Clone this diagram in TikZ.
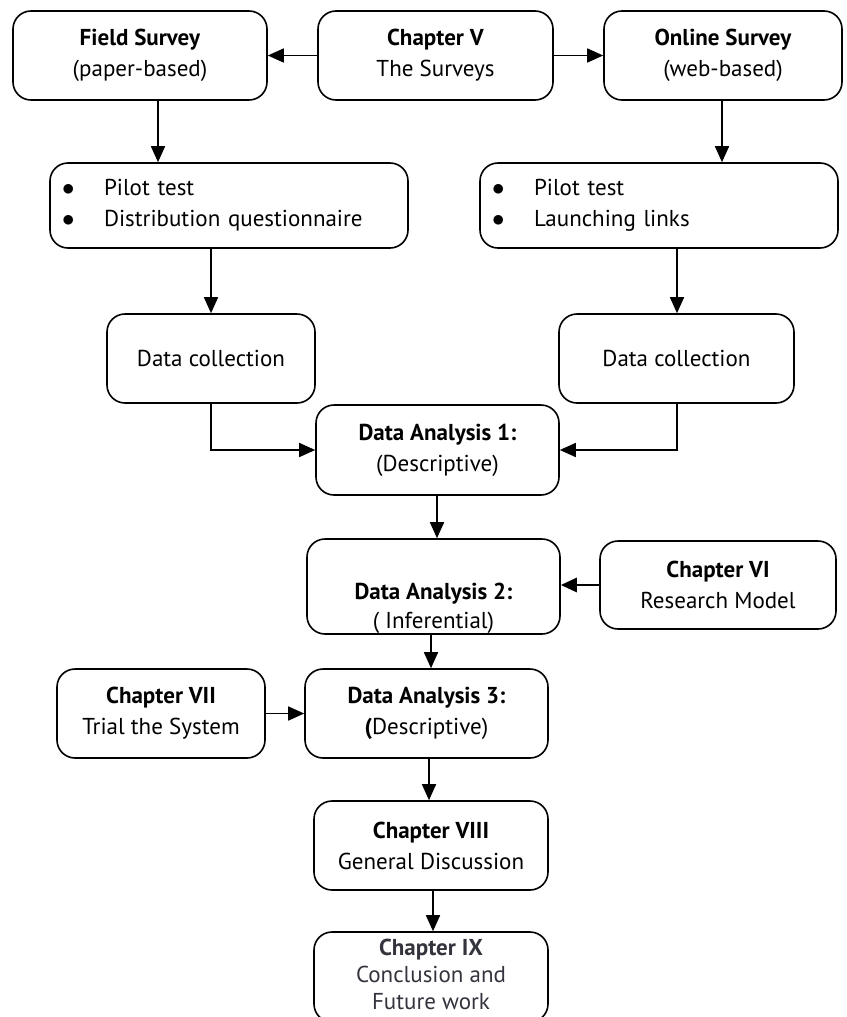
\documentclass[tikz,border=0pt]{standalone}
\usepackage{fontspec}
\setmainfont{PT Sans}
\usetikzlibrary{arrows.meta,calc}
\definecolor{softink}{RGB}{52,52,62}
\begin{document}
\begin{tikzpicture}[x=1pt,y=-1pt,
  box/.style={draw, line width=1.6pt, rounded corners=18pt, align=center,
    inner sep=0pt, font=\fontsize{23}{31}\selectfont},
  txt/.style={align=center, inner sep=0pt, font=\fontsize{23}{29}\selectfont},
  arr/.style={-{Triangle[length=16pt,width=14pt]}, line width=1.6pt},
  heavyarr/.style={arr, line width=2.8pt}
]
\useasboundingbox (0,0) rectangle (846,1017);

% top row: the two surveys branch out of Chapter V
\node[box, minimum width=254pt, minimum height=89pt] (field) at (140,55.5)
  {\textbf{Field Survey}\\(paper-based)};
\node[box, minimum width=235pt, minimum height=89pt] (ch5) at (435.5,55.5)
  {\textbf{Chapter V}\\The Surveys};
\node[box, minimum width=238pt, minimum height=89pt] (online) at (723,55.5)
  {\textbf{Online Survey}\\(web-based)};

% preparation steps
\node[box, minimum width=358pt, minimum height=85pt, text width=334pt, align=left] (pilotL) at (229,205.5)
  {\makebox[42pt][l]{$\bullet$}Pilot test\\\makebox[42pt][l]{$\bullet$}Distribution questionnaire};
\node[box, minimum width=358pt, minimum height=85pt, text width=334pt, align=left] (pilotR) at (659,205.5)
  {\makebox[42pt][l]{$\bullet$}Pilot test\\\makebox[42pt][l]{$\bullet$}Launching links};

% data collection
\node[box, minimum width=208pt, minimum height=89pt] (dcL) at (211,358.5) {Data collection};
\node[box, minimum width=235pt, minimum height=89pt] (dcR) at (676.5,358.5) {Data collection};

% analysis chain
\node[box, minimum width=243pt, minimum height=90pt] (da1) at (437.5,450)
  {\textbf{Data Analysis 1:}\\(Descriptive)};
\node[box, minimum width=253pt, minimum height=95pt] (da2) at (433.5,586.5) {};
\node[txt] (da2t) at (433.5,608) {\textbf{Data Analysis 2:}\\( Inferential)};
\node[box, minimum width=236pt, minimum height=88pt] (ch6) at (718,585)
  {\textbf{Chapter VI}\\Research Model};

\node[box, minimum width=208pt, minimum height=89pt] (ch7) at (161,713.5)
  {\textbf{Chapter VII}\\Trial the System};
\node[box, minimum width=243pt, minimum height=89pt] (da3) at (426.5,713.5)
  {\textbf{Data Analysis 3:}\\\textbf{(}Descriptive)};

\node[box, minimum width=234pt, minimum height=89pt] (ch8) at (431,845.5)
  {\textbf{Chapter VIII}\\General Discussion};
% last box runs past the lower edge of the page
\node[box, minimum width=234pt, minimum height=90pt] (ch9) at (431,977) {};
\node[txt, text=softink, font=\fontsize{23}{27}\selectfont] (ch9t) at (431,974)
  {\textbf{Chapter IX}\\Conclusion and\\Future work};

% connector columns
\coordinate (fx) at (158,0);
\coordinate (ox) at (722,0);
\coordinate (lx) at (211,0);
\coordinate (rx) at (677,0);
\coordinate (c1) at (437,0);
\coordinate (c2) at (431,0);
\coordinate (c3) at (429,0);
\coordinate (c4) at (433,0);

% connectors
\draw[arr] (ch5.west) -- (field.east);
\draw[arr] (ch5.east) -- (online.west);
\draw[arr] (fx |- field.south) -- (fx |- pilotL.north);
\draw[arr] (ox |- online.south) -- (ox |- pilotR.north);
\draw[arr] (lx |- pilotL.south) -- (lx |- dcL.north);
\draw[arr] (rx |- pilotR.south) -- (rx |- dcR.north);
\draw[arr] (lx |- dcL.south) |- (da1.west);
\draw[arr] (rx |- dcR.south) |- (da1.east);
\draw[arr] (c1 |- da1.south) -- (c1 |- da2.north);
\draw[heavyarr] (ch6.west) -- (ch6.west -| da2.east);
\draw[arr] (c2 |- da2.south) -- (c2 |- da3.north);
\draw[arr] (ch7.east) -- (da3.west);
\draw[arr] (c3 |- da3.south) -- (c3 |- ch8.north);
\draw[arr] (c4 |- ch8.south) -- (c4 |- ch9.north);
\end{tikzpicture}
\end{document}
